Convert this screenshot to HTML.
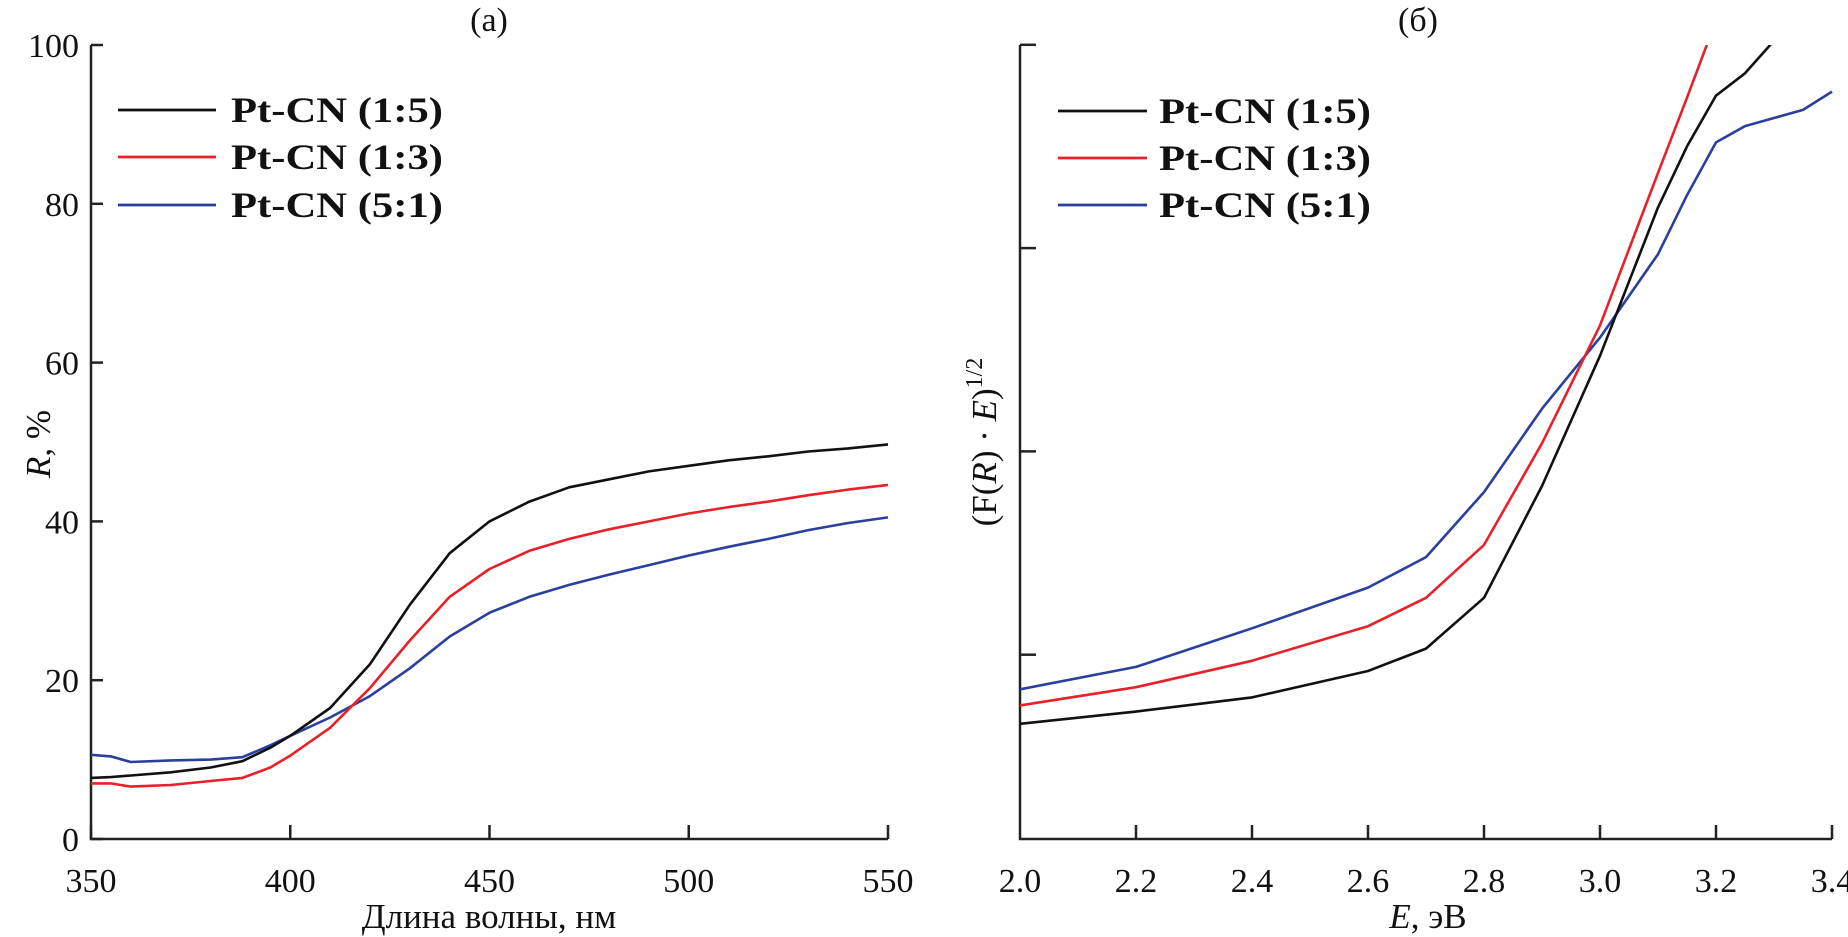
<!DOCTYPE html>
<html><head><meta charset="utf-8"><style>
html,body{margin:0;padding:0;background:#fff;}
svg{display:block;font-family:"Liberation Serif",serif;}
</style></head><body>
<svg id="c" width="1848" height="937" viewBox="0 0 1848 937" xmlns="http://www.w3.org/2000/svg">
<defs><clipPath id="clipb"><rect x="1020" y="45" width="828" height="800"/></clipPath>
<clipPath id="clipa"><rect x="91" y="45" width="800" height="800"/></clipPath></defs>
</svg>
<script>
// Panel (a)
const aWl = [350,355,360,370,380,388,395,400,410,420,430,440,450,460,470,480,490,500,510,520,530,540,550];
const aBlack = [7.7,7.8,8,8.4,9,9.8,11.5,13,16.5,22,29.5,36,40,42.5,44.3,45.3,46.3,47,47.7,48.2,48.8,49.2,49.7];
const aRed = [7,7,6.6,6.8,7.3,7.7,9,10.5,14,19,25,30.5,34,36.3,37.8,39,40,41,41.8,42.5,43.3,44,44.6];
const aBlue = [10.6,10.4,9.7,9.9,10,10.3,11.8,13,15.3,18,21.5,25.5,28.5,30.5,32,33.3,34.5,35.7,36.8,37.8,38.9,39.8,40.5];
const aXTicks = [350,400,450,500,550];
const aYTicks = [0,20,40,60,80,100];
// Panel (b)
const bE = [2.0,2.2,2.4,2.6,2.7,2.8,2.9,3.0,3.1,3.15,3.2,3.25,3.3,3.35,3.4];
const bBlack = [0.66,0.72,0.79,0.92,1.03,1.28,1.83,2.47,3.20,3.50,3.75,3.86,4.02,null,null];
const bRed = [0.75,0.84,0.97,1.14,1.28,1.54,2.04,2.62,3.37,3.74,4.12,null,null,null,null];
const bBlue = [0.83,0.94,1.13,1.33,1.48,1.80,2.21,2.56,2.97,3.26,3.52,3.60,3.64,3.68,3.77];
const bXTicks = ["2.0","2.2","2.4","2.6","2.8","3.0","3.2","3.4"];
const bYTicks = [1,2,3,4];
const labels = ["Pt-CN (1:5)","Pt-CN (1:3)","Pt-CN (5:1)"];
const colors = ["#111","#e8202a","#2a3f9e"];

const NS="http://www.w3.org/2000/svg";
const svg=document.getElementById('c');
function mk(tag,attrs,parent){const e=document.createElementNS(NS,tag);for(const k in attrs)e.setAttribute(k,attrs[k]);(parent||svg).appendChild(e);return e;}

const ax={x0:91,x1:888,y0:839,y1:45};
const aX=v=>ax.x0+(v-350)/200*(ax.x1-ax.x0);
const aY=v=>ax.y0-(v/100)*(ax.y0-ax.y1);
const bx={x0:1020,x1:1832,y0:839,y1:45};
const bX=v=>bx.x0+(v-2.0)/1.4*(bx.x1-bx.x0);
const bY=v=>858-v*203.3;

function axes(p,name){
  const g=mk('g',{});
  
  
  mk('path',{d:`M${p.x0},${p.y1} V${p.y0} H${p.x1}`,fill:'none',stroke:'#222','stroke-width':2.5},g);
  return g;
}
const ga=axes(ax,'axes-a');
aXTicks.forEach(t=>{
  const x=aX(t);
  mk('line',{x1:x,y1:ax.y0,x2:x,y2:ax.y0-14,stroke:'#222','stroke-width':2.5},ga);
  const tx=mk('text',{x:x,y:892,'font-size':34,'text-anchor':'middle',fill:'#111'},ga);
  tx.textContent=t;
  
  
});
aYTicks.forEach(t=>{
  const y=aY(t);
  mk('line',{x1:ax.x0,y1:y,x2:ax.x0+12,y2:y,stroke:'#222','stroke-width':2.5},ga);
  const tx=mk('text',{x:79,y:y+12,'font-size':34,'text-anchor':'end',fill:'#111'},ga);
  tx.textContent=t;
  
  
});
const gb=axes(bx,'axes-b');
bXTicks.forEach(t=>{
  const x=bX(parseFloat(t));
  if(parseFloat(t)>2.0) mk('line',{x1:x,y1:bx.y0,x2:x,y2:bx.y0-14,stroke:'#222','stroke-width':2.5},gb);
  const tx=mk('text',{x:x,y:892,'font-size':34,'text-anchor':'middle',fill:'#111'},gb);
  tx.textContent=t;
  
  
});
bYTicks.forEach(t=>{
  const y=bY(t);
  mk('line',{x1:bx.x0,y1:y,x2:bx.x0+16,y2:y,stroke:'#222','stroke-width':2.5},gb);
});

function series(xs,ys,fx,fy,color,name,clip){
  let d='';let started=false;
  xs.forEach((x,i)=>{const v=ys[i];if(v===null||v===undefined)return;d+=(started?'L':'M')+fx(x).toFixed(1)+','+fy(v).toFixed(1)+' ';started=true;});
  const p=mk('path',{d:d,fill:'none',stroke:color,'stroke-width':2.6,'stroke-linejoin':'round','clip-path':'url(#'+clip+')'});
  
  
}
series(aWl,aBlue,aX,aY,colors[2],'line-a-5-1','clipa');
series(aWl,aRed,aX,aY,colors[1],'line-a-1-3','clipa');
series(aWl,aBlack,aX,aY,colors[0],'line-a-1-5','clipa');
series(bE,bBlue,bX,bY,colors[2],'line-b-5-1','clipb');
series(bE,bRed,bX,bY,colors[1],'line-b-1-3','clipb');
series(bE,bBlack,bX,bY,colors[0],'line-b-1-5','clipb');

function legend(lx0,lx1,tx,ys,name){
  const g=mk('g',{});
  
  
  labels.forEach((l,i)=>{
    mk('line',{x1:lx0,y1:ys[i],x2:lx1,y2:ys[i],stroke:colors[i],'stroke-width':2.8},g);
    const t=mk('text',{x:tx,y:ys[i]+12,'font-size':36,'font-weight':'bold',fill:'#111',textLength:212,lengthAdjust:'spacingAndGlyphs'},g);
    t.textContent=l;
    
    
  });
}
legend(118,216,231,[110,157,205],'legend-a');
legend(1058,1147,1159,[111,158,205],'legend-b');

function txt(s,attrs,name){const t=mk('text',attrs);t.innerHTML=s;return t;}
txt('(а)',{x:489,y:31,'font-size':34,'text-anchor':'middle',fill:'#111'},'title-a');
txt('(б)',{x:1418,y:31,'font-size':34,'text-anchor':'middle',fill:'#111'},'title-b');
txt('Длина волны, нм',{x:489,y:928,'font-size':35,'text-anchor':'middle',fill:'#111'},'x-axis-title-a');
txt('<tspan font-style="italic">E</tspan>, эВ',{x:1428,y:928,'font-size':35,'text-anchor':'middle',fill:'#111'},'x-axis-title-b');
txt('<tspan font-style="italic">R</tspan>, %',{x:0,y:0,'font-size':35,'text-anchor':'middle',fill:'#111',transform:'translate(50,444) rotate(-90)'},'y-axis-title-a');
txt('(F(<tspan font-style="italic">R</tspan>) · <tspan font-style="italic">E</tspan>)<tspan font-size="24" dy="-14">1/2</tspan>',{x:0,y:0,'font-size':35,'text-anchor':'middle',fill:'#111',transform:'translate(996,442) rotate(-90)'},'y-axis-title-b');
</script>
</body></html>
